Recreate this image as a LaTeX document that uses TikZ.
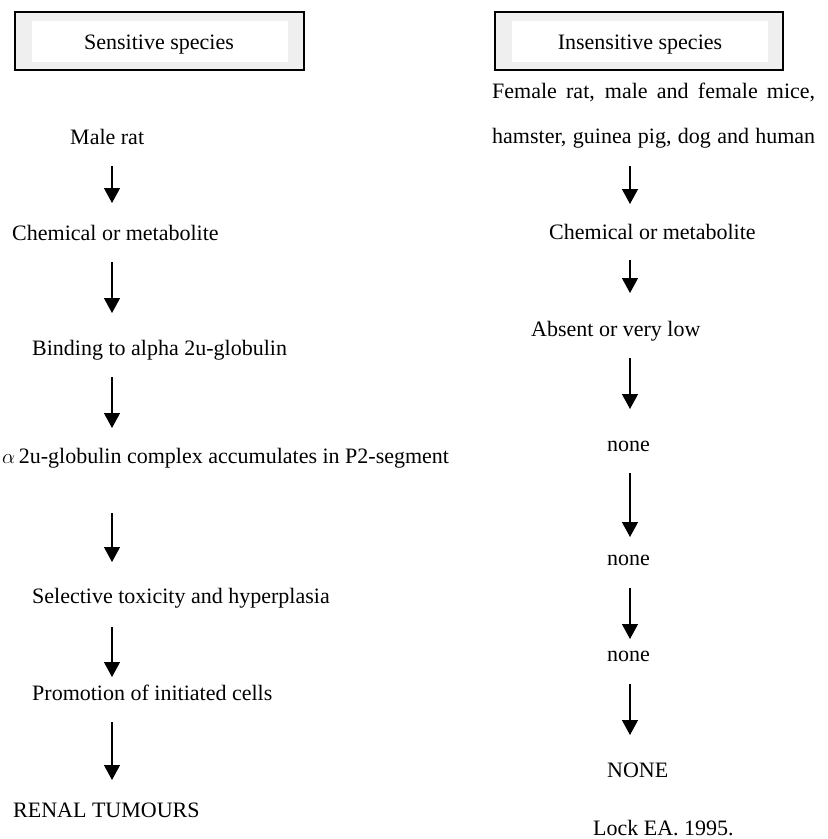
\documentclass[tikz,border=0pt]{standalone}
\usepackage{fontspec}
\setmainfont{Liberation Serif}
\usetikzlibrary{arrows.meta}
\definecolor{boxgray}{HTML}{EFEFEF}
\begin{document}
\begin{tikzpicture}[x=1pt,y=-1pt,
  lbl/.style={anchor=base west,inner sep=0pt,font=\fontsize{22}{26}\selectfont},
  hdr/.style={anchor=base,inner sep=0pt,font=\fontsize{22}{26}\selectfont},
  flow/.style={line width=1.3pt,-{Triangle[width=16pt,length=15pt]}},
  outerbox/.style={draw=black,line width=1.4pt,fill=boxgray},
  innerbox/.style={fill=white}]
\useasboundingbox (0,0) rectangle (828,839);
% header boxes
\draw[outerbox] (15,12) rectangle (304,70);
\fill[innerbox] (32,21) rectangle (288,62);
\node[hdr] (sens) at (159,49) {Sensitive species};
\draw[outerbox] (495,12) rectangle (783,70);
\fill[innerbox] (512,21) rectangle (768,62);
\node[hdr] (insens) at (640,49) {Insensitive species};
% left column
\node[lbl] (male) at (70,144) {Male rat};
\node[lbl] (chemL) at (12,240) {Chemical or metabolite};
\node[lbl] (bind) at (32,355) {Binding to alpha 2u-globulin};
\node[lbl] (accum) at (2,463) {$\alpha$\,2u-globulin complex accumulates in P2-segment};
\node[lbl] (sel) at (32,603) {Selective toxicity and hyperplasia};
\node[lbl] (prom) at (32,700) {Promotion of initiated cells};
\node[lbl] (renal) at (13,817) {RENAL TUMOURS};
% right column
\node[lbl] (ins1) at (492,98) {\makebox[323pt][s]{Female rat, male and female mice,}};
\node[lbl] (ins2) at (492,143) {\makebox[323pt][s]{hamster, guinea pig, dog and human}};
\node[lbl] (chemR) at (549,239) {Chemical or metabolite};
\node[lbl] (absent) at (531,336) {Absent or very low};
\node[lbl] (none1) at (607,451) {none};
\node[lbl] (none2) at (607,565) {none};
\node[lbl] (none3) at (607,661) {none};
\node[lbl] (none4) at (607,777) {NONE};
\node[lbl] (lock) at (593,835) {Lock EA. 1995.};
% arrow end points
\coordinate (l1a) at (112,166); \coordinate (l1b) at (112,203);
\coordinate (l2a) at (112,262); \coordinate (l2b) at (112,313);
\coordinate (l3a) at (112,377); \coordinate (l3b) at (112,428);
\coordinate (l4a) at (112,513); \coordinate (l4b) at (112,562);
\coordinate (l5a) at (112,627); \coordinate (l5b) at (112,677);
\coordinate (l6a) at (112,722); \coordinate (l6b) at (112,780);
\coordinate (r1a) at (630,166); \coordinate (r1b) at (630,204);
\coordinate (r2a) at (630,260); \coordinate (r2b) at (630,293);
\coordinate (r3a) at (630,358); \coordinate (r3b) at (630,409);
\coordinate (r4a) at (630,473); \coordinate (r4b) at (630,537);
\coordinate (r5a) at (630,588); \coordinate (r5b) at (630,639);
\coordinate (r6a) at (630,684); \coordinate (r6b) at (630,735);
\foreach \s in {l1,l2,l3,l4,l5,l6,r1,r2,r3,r4,r5,r6}
  \draw[flow] (\s a) -- (\s b);
\end{tikzpicture}
\end{document}
